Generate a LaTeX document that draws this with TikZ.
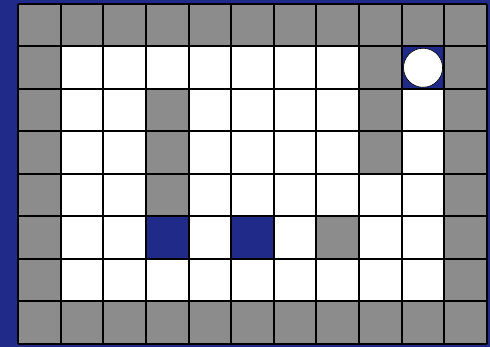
\documentclass[tikz,border=0pt]{standalone}
\definecolor{bgblue}{RGB}{32,42,136}
\definecolor{cellgray}{RGB}{140,140,140}
\begin{document}
\begin{tikzpicture}[x=1pt,y=-1pt,
  gridline/.style={draw=black,line width=2pt}]
\fill[bgblue] (0,0) rectangle (490,347);
\useasboundingbox (0,0) rectangle (490,347);
\def\cw{42.636}
\def\ch{42.5}
\fill[white] (18,4) rectangle (487,344);
% walls: row 0 and row 7
\foreach \c in {0,...,10}{
  \fill[cellgray] (18+\c*\cw,4) rectangle ++(\cw,\ch);
  \fill[cellgray] (18+\c*\cw,4+7*\ch) rectangle ++(\cw,\ch);
}
\foreach \r in {1,...,6}{
  \fill[cellgray] (18,4+\r*\ch) rectangle ++(\cw,\ch);
  \fill[cellgray] (18+10*\cw,4+\r*\ch) rectangle ++(\cw,\ch);
}
\foreach \c/\r in {8/1,3/2,8/2,3/3,8/3,3/4,7/5}{
  \fill[cellgray] (18+\c*\cw,4+\r*\ch) rectangle ++(\cw,\ch);
}
\foreach \c/\r in {9/1,3/5,5/5}{
  \fill[bgblue] (18+\c*\cw,4+\r*\ch) rectangle ++(\cw,\ch);
}
% grid lines
\foreach \c in {0,...,11}{
  \draw[gridline] (18+\c*\cw,4) -- (18+\c*\cw,344);
}
\foreach \r in {0,...,8}{
  \draw[gridline] (18,4+\r*\ch) -- (487,4+\r*\ch);
}
% agent
\fill[white,draw=black,line width=0.6pt] (18+9.5*\cw,4+1.5*\ch) circle (19.5);
\end{tikzpicture}
\end{document}
